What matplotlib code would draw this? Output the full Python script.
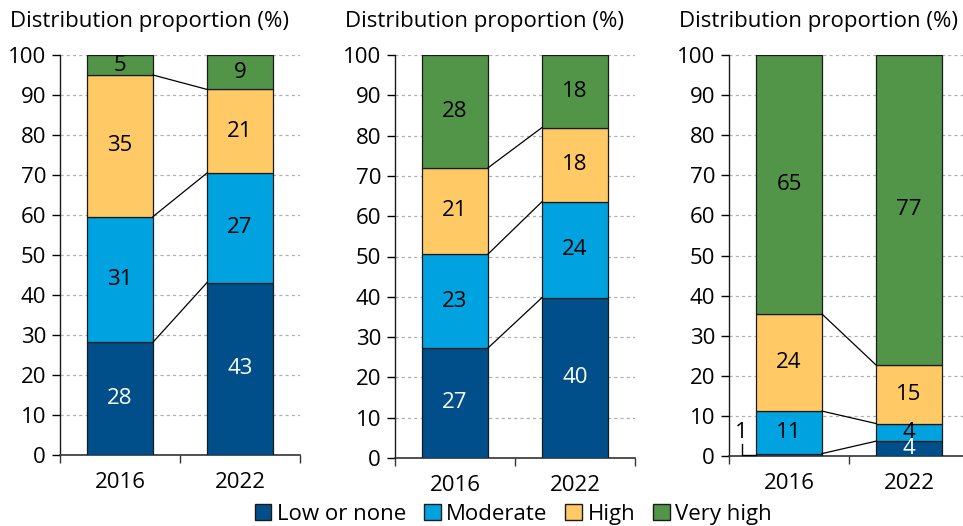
"""Stacked distribution bars (2016 vs 2022) for three groups, with bridge lines."""
import matplotlib
matplotlib.use("Agg")
import matplotlib.pyplot as plt
from matplotlib.patches import Patch

plt.rcParams["font.family"] = ["Open Sans", "DejaVu Sans"]

categories = ["Low or none", "Moderate", "High", "Very high"]
years = ["2016", "2022"]

# share (%) per category, one list per bar
left_2016 = [28.2, 31.4, 35.4, 5.0]
left_2022 = [43.1, 27.4, 20.9, 8.6]
mid_2016 = [27.3, 23.3, 21.4, 28.0]
mid_2022 = [39.8, 23.8, 18.4, 18.0]
right_2016 = [0.6, 10.6, 24.2, 64.6]
right_2022 = [3.7, 4.4, 14.6, 77.3]

panels = [(left_2016, left_2022), (mid_2016, mid_2022), (right_2016, right_2022)]

colors = ["#004f8a", "#00a3e0", "#ffc966", "#529549"]
text_colors = ["white", "black", "black", "black"]

FS = 16
W, H = 963, 526
# axes boxes in pixels: left, right, y of 0, y of 100
boxes = [(60, 300, 455, 55), (395, 635, 458, 55), (729, 969, 456, 55)]
BAR_W = 0.55

fig = plt.figure(figsize=(W / 100, H / 100), dpi=100)

for (first, second), (x0, x1, y0, y1) in zip(panels, boxes):
    ax = fig.add_axes([x0 / W, 1 - y0 / H, (x1 - x0) / W, (y0 - y1) / H])
    ax.set_xlim(-0.5, 1.5)
    ax.set_ylim(0, 100)

    bottoms = []
    for xi, vals in enumerate((first, second)):
        bottom = 0.0
        edges = []
        for ci, v in enumerate(vals):
            ax.bar(xi, v, bottom=bottom, width=BAR_W, color=colors[ci],
                   edgecolor="#1a1a1a", linewidth=0.9, zorder=3)
            mid = bottom + v / 2
            if v >= 2:
                ax.text(xi, mid, f"{v:.0f}", ha="center", va="center",
                        fontsize=FS, color=text_colors[ci], zorder=5)
            else:
                # tiny segment: label off to the left with an elbow leader
                bx = xi - BAR_W / 2
                tx = bx - 0.12
                ax.text(tx, mid + 5.5, f"{v:.0f}", ha="center", va="center",
                        fontsize=FS, color="black", zorder=5)
                ax.plot([tx, tx, bx], [mid + 2.6, mid, mid], color="black",
                        lw=1.0, zorder=4, clip_on=False)
            bottom += v
            edges.append(bottom)
        bottoms.append(edges)

    # bridge lines between matching segment boundaries
    for a, b in zip(bottoms[0][:3], bottoms[1][:3]):
        ax.plot([BAR_W / 2, 1 - BAR_W / 2], [a, b], color="black", lw=0.9, zorder=4)

    ax.set_yticks(range(0, 101, 10))
    ax.grid(axis="y", color="#b0b0b0", linestyle=(0, (2.5, 2.5)), lw=0.9, zorder=0)
    ax.set_xticks([0, 1])
    ax.set_xticklabels(years)
    ax.set_xticks([-0.5, 0.5, 1.5], minor=True)
    ax.tick_params(axis="x", which="major", length=0, pad=12, labelsize=FS)
    ax.tick_params(axis="x", which="minor", length=6, width=1, color="#333333")
    ax.tick_params(axis="y", length=6, width=1, labelsize=FS, pad=4)
    for side in ("top", "right"):
        ax.spines[side].set_visible(False)
    ax.spines["left"].set_color("#1a1a1a")
    ax.spines["bottom"].set_color("#333333")
    ax.spines["left"].set_linewidth(1)
    ax.spines["bottom"].set_linewidth(1.2)

    fig.text((x0 - 50) / W, 1 - 21 / H, "Distribution proportion (%)",
             ha="left", va="center", fontsize=FS)

handles = [Patch(facecolor=c, edgecolor="#1a1a1a", linewidth=1) for c in colors]
fig.legend(handles, categories, loc="center", bbox_to_anchor=(0.533, 0.022), ncol=4,
           frameon=False, fontsize=FS, handlelength=0.75, handleheight=0.75,
           handletextpad=0.25, columnspacing=0.8, borderpad=0)

fig.savefig("out.png", dpi=100)
